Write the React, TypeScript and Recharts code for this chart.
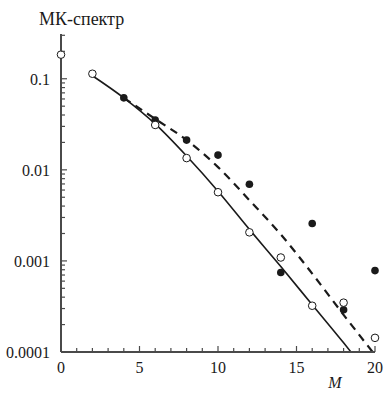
import React from "react";
import { ComposedChart, Line, Scatter, XAxis, YAxis } from "recharts";

// open circles
const M_OPEN = [0, 2, 6, 8, 10, 12, 14, 16, 18, 20];
const MK_OPEN = [0.184, 0.1135, 0.0311, 0.01346, 0.00568, 0.00206, 0.00109, 0.000322, 0.000348, 0.000143];

// filled circles
const M_FILLED = [4, 6, 8, 10, 12, 14, 16, 18, 20];
const MK_FILLED = [0.0617, 0.0353, 0.0212, 0.01452, 0.00695, 0.000745, 0.00258, 0.000291, 0.000783];

// solid curve
const M_SOLID = [2, 4, 6, 8, 10, 12, 14, 16, 18, 18.47];
const MK_SOLID = [0.108, 0.0617, 0.0319, 0.01416, 0.00582, 0.00222, 0.000867, 0.00033, 0.000126, 0.0001];

// dashed curve
const M_DASHED = [4, 6, 8, 10, 12, 14, 16, 18, 19.85];
const MK_DASHED = [0.0617, 0.0362, 0.02126, 0.01072, 0.00464, 0.001954, 0.000726, 0.000256, 0.0001];

const X_TICKS = [0, 1, 2, 3, 4, 5, 6, 7, 8, 9, 10, 11, 12, 13, 14, 15, 16, 17, 18, 19, 20];
const X_LABELS = [0, 5, 10, 15, 20];

const Y_MAJOR = [0.0001, 0.001, 0.01, 0.1];
const Y_MAJOR_LABELS = ["0.0001", "0.001", "0.01", "0.1"];
const Y_MINOR = [
  0.0002, 0.0003, 0.0004, 0.0005, 0.0006, 0.0007, 0.0008, 0.0009,
  0.002, 0.003, 0.004, 0.005, 0.006, 0.007, 0.008, 0.009,
  0.02, 0.03, 0.04, 0.05, 0.06, 0.07, 0.08, 0.09,
  0.2, 0.3,
];

const zip = (xs: number[], ys: number[]) => xs.map((x, i) => ({ x, y: ys[i] }));

const openData = zip(M_OPEN, MK_OPEN);
const filledData = zip(M_FILLED, MK_FILLED);
const solidData = zip(M_SOLID, MK_SOLID);
const dashedData = zip(M_DASHED, MK_DASHED);

const FONT = "'Liberation Serif', 'Times New Roman', serif";
const INK = "#1a1a1a";
const AXIS = "#4a4a4a";
const txt = (size: number, italic = false) => ({
  fontFamily: FONT,
  fontSize: size,
  fontStyle: italic ? "italic" : "normal",
  fill: INK,
});

function YTick(props: any) {
  const { x, y, payload } = props;
  const idx = Y_MAJOR.findIndex((v) => Math.abs(v - payload.value) < v * 1e-6);
  const major = idx >= 0;
  return (
    <g>
      <line x1={x} y1={y} x2={x + (major ? 6 : 4)} y2={y} stroke={AXIS} strokeWidth={1.2} />
      {major && (
        <text x={x - 11} y={y + 6} textAnchor="end" style={txt(16)}>
          {Y_MAJOR_LABELS[idx]}
        </text>
      )}
    </g>
  );
}

function XTick(props: any) {
  const { x, y, payload } = props;
  const major = X_LABELS.includes(payload.value);
  return (
    <g>
      <line x1={x} y1={y} x2={x} y2={y - (major ? 6 : 4)} stroke={AXIS} strokeWidth={1.2} />
      {major && (
        <text x={x} y={y + 21} textAnchor="middle" style={txt(16)}>
          {payload.value}
        </text>
      )}
    </g>
  );
}

const OpenDot = (p: any) => (
  <circle cx={p.cx} cy={p.cy} r={3.8} fill="#fff" stroke={INK} strokeWidth={1} />
);
const FilledDot = (p: any) => <circle cx={p.cx} cy={p.cy} r={3.8} fill={INK} />;

export default function App() {
  return (
    <div style={{ position: "absolute", left: 0, top: 0, width: 392, height: 394, background: "#fff", fontFamily: FONT }}>
      <ComposedChart width={392} height={394} margin={{ top: 34, right: 17, left: 0, bottom: 0 }} style={{ fontFamily: FONT }}>
        <XAxis
          type="number"
          dataKey="x"
          domain={[0, 20]}
          ticks={X_TICKS}
          interval={0}
          height={42}
          tickSize={0}
          tickMargin={0}
          tickLine={false}
          tick={<XTick />}
          axisLine={{ stroke: AXIS, strokeWidth: 2 }}
          label={{
            content: (lp: any) => (
              <text x={lp.viewBox.x + 274} y={lp.viewBox.y + 36} textAnchor="middle" style={txt(16, true)}>
                M
              </text>
            ),
          }}
        />
        <YAxis
          type="number"
          dataKey="y"
          scale="log"
          domain={[0.0001, 0.31]}
          allowDataOverflow
          ticks={[...Y_MAJOR, ...Y_MINOR]}
          interval={0}
          width={61}
          tickSize={0}
          tickMargin={0}
          tickLine={false}
          tick={<YTick />}
          axisLine={{ stroke: AXIS, strokeWidth: 2 }}
          label={{
            content: () => (
              <text x={39} y={25} style={txt(18)}>
                МК-спектр
              </text>
            ),
          }}
        />
        <Line
          data={solidData}
          dataKey="y"
          type="monotone"
          stroke={INK}
          strokeWidth={1.6}
          dot={false}
          activeDot={false}
          isAnimationActive={false}
        />
        <Line
          data={dashedData}
          dataKey="y"
          type="monotone"
          stroke={INK}
          strokeWidth={2.2}
          strokeDasharray="8 6"
          dot={false}
          activeDot={false}
          isAnimationActive={false}
        />
        <Scatter data={filledData} dataKey="y" shape={FilledDot} isAnimationActive={false} />
        <Scatter data={openData} dataKey="y" shape={OpenDot} isAnimationActive={false} />
      </ComposedChart>
    </div>
  );
}
